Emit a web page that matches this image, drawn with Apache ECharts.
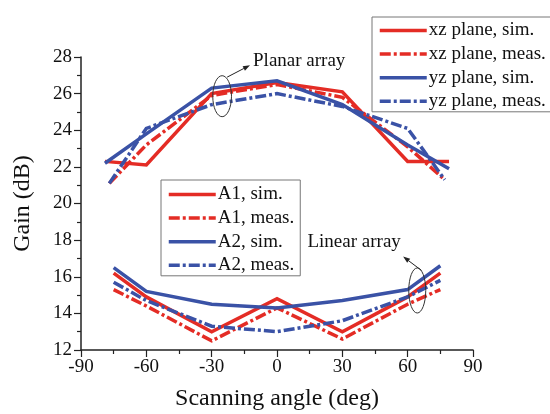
<!DOCTYPE html>
<html><head><meta charset="utf-8">
<script src="https://cdn.jsdelivr.net/npm/echarts@6/dist/echarts.min.js"></script>
<style>html,body{margin:0;padding:0;background:#fff}#c{width:550px;height:414px}</style>
</head><body><div id="c"></div>
<script>
// Planar array data [angle, gain]
const xzSim  = [[-79,22.3],[-60,22.1],[-30,26.0],[0,26.6],[30,26.1],[60,22.3],[79,22.3]];
const xzMeas = [[-77,21.1],[-60,23.2],[-30,25.9],[0,26.5],[30,25.8],[60,23.1],[77,21.3]];
const yzSim  = [[-79,22.2],[-60,23.8],[-30,26.3],[0,26.7],[30,25.4],[60,23.2],[79,21.9]];
const yzMeas = [[-77,21.1],[-60,24.1],[-30,25.4],[0,26.0],[30,25.3],[60,24.1],[77,21.3]];
// Linear array data
const a1Sim  = [[-75,16.2],[-60,14.9],[-30,13.0],[0,14.8],[30,13.0],[60,14.9],[75,16.2]];
const a1Meas = [[-75,15.3],[-60,14.4],[-30,12.5],[0,14.3],[30,12.6],[60,14.5],[75,15.3]];
const a2Sim  = [[-75,16.5],[-60,15.2],[-30,14.5],[0,14.3],[30,14.7],[60,15.3],[75,16.6]];
const a2Meas = [[-75,15.7],[-60,14.7],[-30,13.3],[0,13.0],[30,13.6],[60,14.9],[75,15.8]];
const legendTop = ['xz plane, sim.','xz plane, meas.','yz plane, sim.','yz plane, meas.'];
const legendBot = ['A1, sim.','A1, meas.','A2, sim.','A2, meas.'];
const xTicks = [-90,90,30];
const yTicks = [12,28,2];

const RED = '#e42c25', BLUE = '#3a52a6';
const FONT = 'Liberation Serif';
const DASHDOT = [11,3,3,3];
function mk(name, data, color, dashed){
  return {name, type:'line', data, symbol:'none', z:3,
    lineStyle:{color, width:3.5, type: dashed?DASHDOT:'solid', cap:'butt', join:'miter'},
    itemStyle:{color}};
}
const chart = echarts.init(document.getElementById('c'), null, {renderer:'canvas'});
const legCommon = {orient:'vertical', itemWidth:47, itemHeight:14, itemGap:4.6,
  borderColor:'#777', borderWidth:1, backgroundColor:'#fff', borderRadius:0,
  itemStyle:{opacity:0}, lineStyle:{width:3.5},
  textStyle:{fontFamily:FONT, fontSize:19, color:'#111', padding:[0,0,0,-3]}};
chart.setOption({
  animation:false,
  grid:{left:81, right:77, top:57, bottom:64, containLabel:false, outerBoundsMode:'none'},
  xAxis:{type:'value', min:xTicks[0], max:xTicks[1], interval:xTicks[2],
    name:'Scanning angle (deg)', nameLocation:'middle', nameGap:37,
    nameTextStyle:{fontFamily:FONT, fontSize:24, color:'#111'},
    axisLine:{onZero:false, lineStyle:{color:'#222', width:1.5}},
    axisTick:{length:7, lineStyle:{color:'#222', width:1.2}},
    minorTick:{show:true, splitNumber:2, length:4, lineStyle:{color:'#222', width:1.2}},
    axisLabel:{fontFamily:FONT, fontSize:19, color:'#111', margin:8},
    splitLine:{show:false}},
  yAxis:{type:'value', min:yTicks[0], max:yTicks[1], interval:yTicks[2],
    name:'Gain (dB)', nameLocation:'middle', nameGap:46,
    nameTextStyle:{fontFamily:FONT, fontSize:24, color:'#111'},
    axisLine:{show:true, onZero:false, lineStyle:{color:'#222', width:1.5}},
    axisTick:{show:true, length:7, lineStyle:{color:'#222', width:1.2}},
    minorTick:{show:true, splitNumber:2, length:4, lineStyle:{color:'#222', width:1.2}},
    axisLabel:{fontFamily:FONT, fontSize:19, color:'#111', margin:9},
    splitLine:{show:false}},
  legend:[
    Object.assign({}, legCommon, {data:legendTop, left:372, top:17, padding:[4,14,1,6]}),
    Object.assign({}, legCommon, {data:legendBot, left:161, top:180, padding:[5,6,1,6]})
  ],
  series:[
    mk(legendTop[0], xzSim, RED, false),
    mk(legendTop[1], xzMeas, RED, true),
    mk(legendTop[2], yzSim, BLUE, false),
    mk(legendTop[3], yzMeas, BLUE, true),
    mk(legendBot[0], a1Sim, RED, false),
    mk(legendBot[1], a1Meas, RED, true),
    mk(legendBot[2], a2Sim, BLUE, false),
    mk(legendBot[3], a2Meas, BLUE, true)
  ]
});
// Annotations in data coordinates: ellipse centre, radii (deg, dB), arrow and label
const annPlanar = {c:[-25.2,25.86], r:[4.3,1.12], arrowFrom:[-22.9,26.9], arrowTo:[-12.4,27.55], label:'Planar array', labelAt:[-11,27.8]};
const annLinear = {c:[64.4,15.25], r:[3.9,1.23], arrowFrom:[66.3,16.35], arrowTo:[57.9,17.1], label:'Linear array', labelAt:[14,17.9]};
function ann(a){
  const p = v => chart.convertToPixel({gridIndex:0}, v);
  const c = p(a.c), e = p([a.c[0]+a.r[0], a.c[1]+a.r[1]]);
  const f = p(a.arrowFrom), t = p(a.arrowTo), l = p(a.labelAt);
  const ang = Math.atan2(t[1]-f[1], t[0]-f[0]);
  const h = 7, w = 2.5;
  const bx = t[0]-h*Math.cos(ang), by = t[1]-h*Math.sin(ang);
  return [
    {type:'ellipse', shape:{cx:c[0], cy:c[1], rx:Math.abs(e[0]-c[0]), ry:Math.abs(e[1]-c[1])},
      style:{fill:'none', stroke:'#333', lineWidth:1}, z:10},
    {type:'line', shape:{x1:f[0], y1:f[1], x2:bx, y2:by}, style:{stroke:'#222', lineWidth:1}, z:10},
    {type:'polygon', shape:{points:[[t[0],t[1]],[bx-w*Math.sin(ang), by+w*Math.cos(ang)],[bx+w*Math.sin(ang), by-w*Math.cos(ang)]]},
      style:{fill:'#222'}, z:10},
    {type:'text', x:l[0], y:l[1], style:{text:a.label, font:'19px "Liberation Serif"', fill:'#111', textVerticalAlign:'middle'}, z:10}
  ];
}
chart.setOption({graphic:[].concat(ann(annPlanar), ann(annLinear))});
</script></body></html>
